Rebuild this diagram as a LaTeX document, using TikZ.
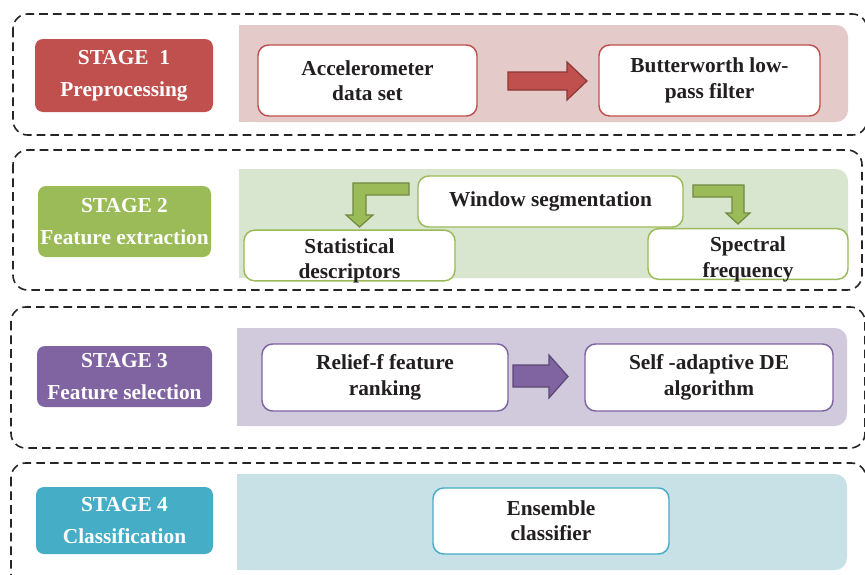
\documentclass[tikz,border=0pt]{standalone}
\usepackage{fontspec}
\setmainfont{Liberation Serif}
\usetikzlibrary{calc}
\definecolor{redS}{HTML}{C0504D}
\definecolor{redL}{HTML}{E5CACA}
\definecolor{redD}{HTML}{8C3836}
\definecolor{grnS}{HTML}{9BBB59}
\definecolor{grnL}{HTML}{D8E5CF}
\definecolor{grnD}{HTML}{71893F}
\definecolor{purS}{HTML}{8064A2}
\definecolor{purL}{HTML}{D0CADC}
\definecolor{purD}{HTML}{5C4776}
\definecolor{bluS}{HTML}{45ADC6}
\definecolor{bluL}{HTML}{C7E1E6}
\definecolor{txt}{HTML}{231F20}
\newcommand\bx[7]{\node[#6, minimum width={(#4-#2)*0.75pt}, minimum height={(#5-#3)*0.75pt}] (#1) at ({(#2+#4)/2},{(#3+#5)/2}) {#7};}
\newcommand\panel[5]{\fill[#5, rounded corners=9pt] (#1,#2) rectangle (#3,#4); \fill[#5] (#1,#2) rectangle ({#1+20},#4);}
\newcommand\lowtext[2]{\raisebox{-#1}[\height][\depth]{\begin{tabular}{@{}c@{}}#2\end{tabular}}}
\tikzset{
  frame/.style={draw=black!85, line width=1.2pt, dash pattern=on 6.5pt off 3.8pt, rounded corners=11pt},
  stagebox/.style={fill=#1, draw=none, rounded corners=6pt, inner sep=0pt, outer sep=0pt, align=center, text=white, font=\fontsize{16}{24}\selectfont\bfseries},
  inbox/.style={fill=white, draw=#1, line width=1.1pt, rounded corners=8pt, inner sep=0pt, outer sep=0pt, align=center, text=txt, font=\fontsize{16}{19}\selectfont\bfseries},
  blockarrow/.style={fill=#1S, draw=#1D, line width=0.9pt, line join=miter}
}
\begin{document}
\begin{tikzpicture}[x=0.75pt,y=-0.75pt]
\useasboundingbox (0,0) rectangle (865,575);
\clip (0,0) rectangle (865,575);
% dashed stage frames
\draw[frame] (13,14) rectangle (867,135);
\draw[frame] (13,150) rectangle (862,290);
\draw[frame] (11,307) rectangle (865,448);
\draw[frame] (11,463) rectangle (866,610);
% light panels
\panel{239}{25}{848}{122}{redL}
\panel{239}{169}{848}{278}{grnL}
\panel{237}{328}{847}{426}{purL}
\panel{237}{474}{847}{570}{bluL}
% stage labels
\bx{s1}{35}{39}{213}{112}{stagebox=redS}{STAGE\ \ 1\\Preprocessing}
\bx{s2}{38}{186}{211}{257}{stagebox=grnS}{STAGE 2\\Feature extraction}
\bx{s3}{37}{346}{212}{407}{stagebox=purS}{STAGE 3\\Feature selection}
\bx{s4}{36}{487}{213}{554}{stagebox=bluS}{STAGE 4\\Classification}
% inner boxes
\bx{acc}{258}{45}{477}{116}{inbox=redS}{Accelerometer\\data set}
\bx{but}{599}{45}{820}{116}{inbox=redS}{Butterworth low-\\pass filter}
\bx{ws}{418}{176}{683}{227}{inbox=grnS}{Window segmentation}
\bx{stat}{244}{233}{455}{278}{inbox=grnS}{\lowtext{4pt}{Statistical\\descriptors}}
\bx{spec}{648}{231}{848}{277}{inbox=grnS}{\lowtext{4pt}{Spectral\\frequency}}
\bx{rel}{262}{344}{508}{411}{inbox=purS}{Relief-f feature\\ranking}
\bx{sad}{585}{344}{833}{411}{inbox=purS}{Self -adaptive DE\\algorithm}
\bx{ens}{433}{488}{669}{554}{inbox=bluS}{Ensemble\\classifier}
% block arrows
\draw[blockarrow=red] (508,72) -- (567,72) -- (567,62) -- (587,81) -- (567,100) -- (567,90) -- (508,90) -- cycle;
\draw[blockarrow=pur] (513,365) -- (549,365) -- (549,355) -- (568,376.5) -- (549,398) -- (549,387) -- (513,387) -- cycle;
\draw[blockarrow=grn] (409,183) -- (353,183) -- (353,215) -- (346,215) -- (359.5,227) -- (373,215) -- (366,215) -- (366,195) -- (409,195) -- cycle;
\draw[blockarrow=grn] (693,185) -- (744,185) -- (744,213) -- (750,213) -- (738,224) -- (726,213) -- (732,213) -- (732,197) -- (693,197) -- cycle;
\end{tikzpicture}
\end{document}
